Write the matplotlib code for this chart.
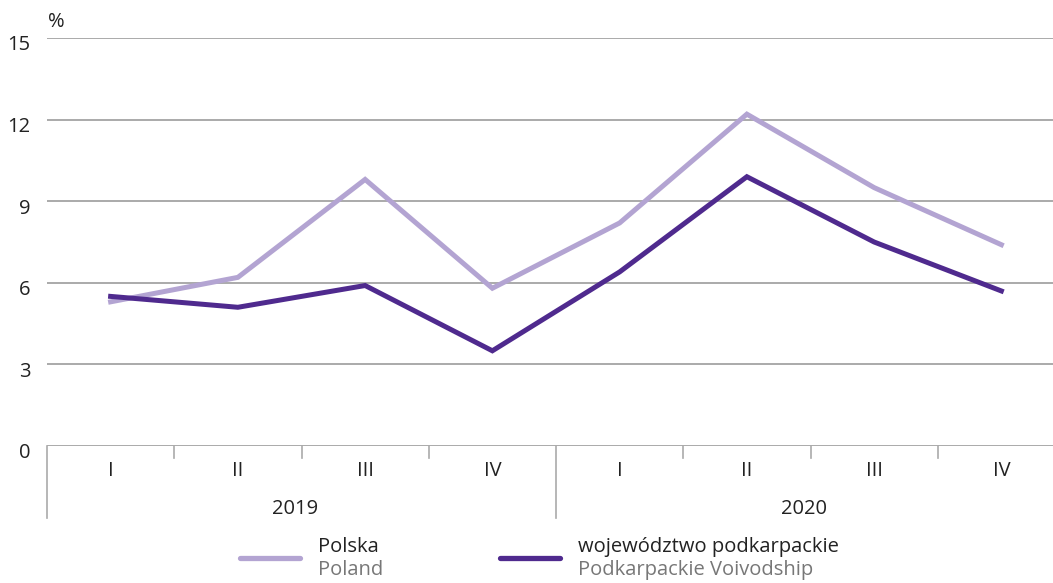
import matplotlib.pyplot as plt
import matplotlib.transforms as mtransforms

plt.rcParams['font.family'] = ['Open Sans', 'DejaVu Sans']

# Dane
kwartaly = ['I', 'II', 'III', 'IV', 'I', 'II', 'III', 'IV']
lata = ['2019', '2020']
polska = [5.3, 6.2, 9.8, 5.8, 8.2, 12.2, 9.5, 7.4]
podkarpackie = [5.5, 5.1, 5.9, 3.5, 6.4, 9.9, 7.5, 5.7]
y_ticks = [0, 3, 6, 9, 12, 15]

kolor_pl = '#b3a4d2'
kolor_pk = '#4f2a8e'
szary = '#aaaaaa'
fs = 14.5

fig = plt.figure(figsize=(10.53, 5.83), dpi=100)
ax = fig.add_axes([47 / 1053, 1 - 446 / 583, 1018 / 1053, 408 / 583])

x = list(range(len(kwartaly)))
ax.plot(x, polska, color=kolor_pl, lw=3.6, solid_joinstyle='miter')
ax.plot(x, podkarpackie, color=kolor_pk, lw=3.6, solid_joinstyle='miter')

ax.set_xlim(-0.5, len(kwartaly) - 0.5)
ax.set_ylim(0, 15)
for spine in ax.spines.values():
    spine.set_visible(False)

# Siatka pozioma
for v in y_ticks:
    ax.axhline(v, color=szary, lw=1.4, zorder=0)

ax.set_yticks(y_ticks)
ax.set_yticklabels([str(v) for v in y_ticks], fontsize=fs, color='#222222')
ax.tick_params(axis='y', length=0, pad=12)
off = mtransforms.ScaledTranslation(0, -5 / 100, fig.dpi_scale_trans)
for lab in ax.get_yticklabels():
    lab.set_transform(lab.get_transform() + off)
ax.set_xticks([])

fig.text(48 / 1053, 1 - 22 / 583, '%', fontsize=fs, ha='left', va='center', color='#222222')

# Oś kategorii pod wykresem
tr = ax.get_xaxis_transform()
for i in range(1, len(kwartaly)):
    if i % 4 == 0:
        ax.plot([i - 0.5, i - 0.5], [0, -0.177], transform=tr, color=szary, lw=1.2, clip_on=False)
    else:
        ax.plot([i - 0.5, i - 0.5], [0, -0.03], transform=tr, color=szary, lw=1.2, clip_on=False)
ax.plot([-0.5, -0.5], [0, -0.177], transform=tr, color=szary, lw=1.2, clip_on=False)

for i, k in enumerate(kwartaly):
    ax.text(i, -0.062, k, transform=tr, ha='center', va='center', fontsize=fs, color='#222222')
for j, rok in enumerate(lata):
    ax.text(j * 4 + 1.45, -0.155, rok, transform=tr, ha='center', va='center', fontsize=fs,
            color='#222222')

# Legenda
def legenda(x0, kolor, pl, en):
    fig.add_artist(plt.Line2D([x0 / 1053, (x0 + 60) / 1053], [1 - 558 / 583] * 2,
                              color=kolor, lw=3.8, solid_capstyle='round'))
    fig.text((x0 + 78) / 1053, 1 - 547 / 583, pl, fontsize=fs, va='center', color='#222222')
    fig.text((x0 + 78) / 1053, 1 - 570 / 583, en, fontsize=fs, va='center', color='#777777')

legenda(240, kolor_pl, 'Polska', 'Poland')
legenda(500, kolor_pk, 'województwo podkarpackie', 'Podkarpackie Voivodship')

fig.savefig('out.png', dpi=100)
